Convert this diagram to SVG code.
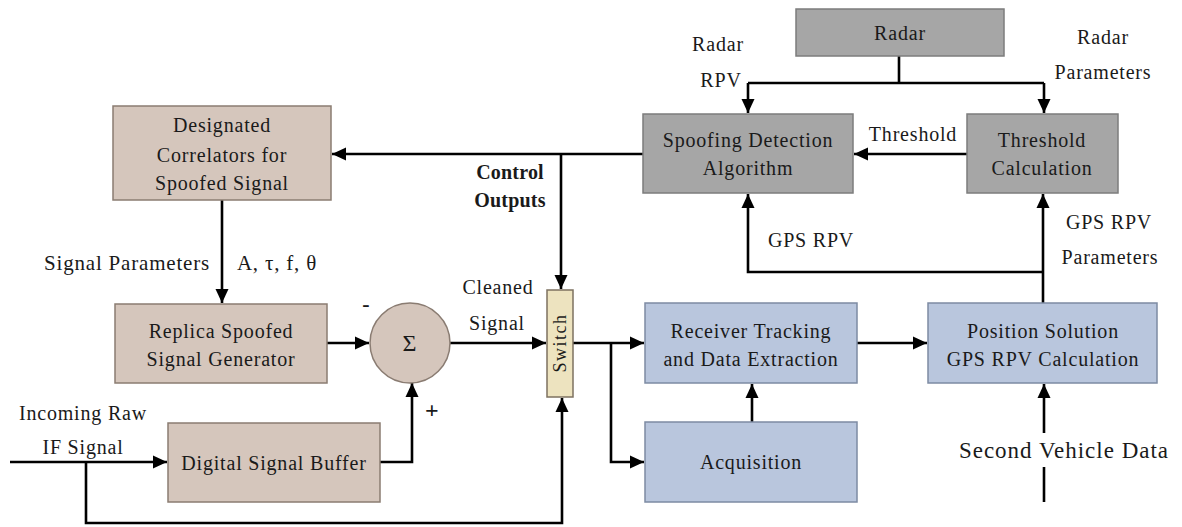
<svg xmlns="http://www.w3.org/2000/svg" width="1182" height="527" viewBox="0 0 1182 527">
  <style>
    text { font-family: "Liberation Serif", "Times New Roman", serif; font-size: 20px; letter-spacing: 0.8px; fill: #1a1a1a; text-anchor: middle; dominant-baseline: central; }
    .brown { fill: #d5c6bc; stroke: #8a7c72; stroke-width: 1.5; }
    .gray  { fill: #a6a6a6; stroke: #7c7c7c; stroke-width: 1.5; }
    .blue  { fill: #b9c6dd; stroke: #7d8ba3; stroke-width: 1.5; }
    .sw    { fill: #ede3bf; stroke: #7d7260; stroke-width: 1.5; }
    .wire  { fill: none; stroke: #000; stroke-width: 2.6; }
    .arrow { fill: none; stroke: #000; stroke-width: 2.6; marker-end: url(#head); }
    .bold  { font-weight: bold; letter-spacing: 0.2px; }
    .big   { font-size: 23px; letter-spacing: 1px; }
  </style>
  <defs>
    <marker id="head" markerUnits="userSpaceOnUse" markerWidth="15" markerHeight="15" refX="14" refY="7.5" orient="auto">
      <path d="M0,1 L14,7.5 L0,14 z" fill="#000"/>
    </marker>
  </defs>
  <rect width="1182" height="527" fill="#fff"/>

  <!-- connectors -->
  <g id="connectors">
    <path class="wire" d="M899,56 V83 M748,83 H1044"/>
    <path class="arrow" d="M748,83 V113"/>
    <path class="arrow" d="M1044,83 V113"/>
    <path class="arrow" d="M967,154 H854"/>
    <path class="arrow" d="M643,154 H332"/>
    <path class="arrow" d="M561,154 V289"/>
    <path class="arrow" d="M222,200 V303"/>
    <path class="arrow" d="M327,343 H369"/>
    <path class="arrow" d="M380,462 H412 V383"/>
    <path class="arrow" d="M10,462 H167"/>
    <path class="arrow" d="M86,462 V523 H562 V398"/>
    <path class="arrow" d="M450,343 H546"/>
    <path class="arrow" d="M573,343 H644"/>
    <path class="arrow" d="M611,343 V462 H644"/>
    <path class="arrow" d="M752,422 V384"/>
    <path class="arrow" d="M857,343 H927"/>
    <path class="arrow" d="M1044,433 V384"/>
    <path class="wire" d="M1044,467 V502"/>
    <path class="arrow" d="M1043,303 V194"/>
    <path class="arrow" d="M1043,272 H748 V194"/>
  </g>

  <!-- connector labels -->
  <g id="labels">
    <text x="718" y="44">Radar</text>
    <text x="721" y="80">RPV</text>
    <text x="1103" y="37">Radar</text>
    <text x="1103" y="72">Parameters</text>
    <text x="913" y="134">Threshold</text>
    <text class="bold" x="510" y="172">Control</text>
    <text class="bold" x="510" y="200">Outputs</text>
    <text x="811" y="240">GPS RPV</text>
    <text x="1109" y="222">GPS RPV</text>
    <text x="1110" y="257">Parameters</text>
    <text x="127" y="263" style="font-size:21px">Signal Parameters</text>
    <text x="277" y="263" style="font-size:21px">A, τ, f, θ</text>
    <text class="bold" x="366" y="303" style="font-size:22px">-</text>
    <text class="bold" x="432" y="410" style="font-size:24px">+</text>
    <text x="498" y="287">Cleaned</text>
    <text x="497" y="323">Signal</text>
    <text x="83" y="413">Incoming Raw</text>
    <text x="83" y="447">IF Signal</text>
    <text class="big" x="1064" y="450">Second Vehicle Data</text>
  </g>

  <g id="radar">
    <rect class="gray" x="796" y="9" width="208" height="47"/>
    <text x="900" y="33">Radar</text>
  </g>

  <g id="spoofing-detection">
    <rect class="gray" x="643" y="114" width="210" height="79"/>
    <text x="748" y="140">Spoofing Detection</text>
    <text x="748" y="168">Algorithm</text>
  </g>

  <g id="threshold-calculation">
    <rect class="gray" x="967" y="114" width="151" height="79"/>
    <text x="1042" y="140">Threshold</text>
    <text x="1042" y="168">Calculation</text>
  </g>

  <g id="designated-correlators">
    <rect class="brown" x="113" y="106" width="218" height="94"/>
    <text x="222" y="125">Designated</text>
    <text x="222" y="155">Correlators for</text>
    <text x="222" y="183">Spoofed Signal</text>
  </g>

  <g id="replica-generator">
    <rect class="brown" x="115" y="304" width="212" height="79"/>
    <text x="221" y="331">Replica Spoofed</text>
    <text x="221" y="359">Signal Generator</text>
  </g>

  <g id="summer">
    <circle class="brown" cx="410" cy="343" r="40"/>
    <text x="410" y="343" style="font-size:24px">Σ</text>
  </g>

  <g id="digital-buffer">
    <rect class="brown" x="168" y="423" width="212" height="79"/>
    <text x="274" y="463">Digital Signal Buffer</text>
  </g>

  <g id="switch">
    <rect class="sw" x="547" y="290" width="26" height="107"/>
    <text x="0" y="0" transform="translate(560,343) rotate(-90)" style="font-size:18px;letter-spacing:1.5px">Switch</text>
  </g>

  <g id="receiver-tracking">
    <rect class="blue" x="645" y="303" width="212" height="80"/>
    <text x="751" y="331">Receiver Tracking</text>
    <text x="751" y="359">and Data Extraction</text>
  </g>

  <g id="acquisition">
    <rect class="blue" x="645" y="422" width="212" height="80"/>
    <text x="751" y="462">Acquisition</text>
  </g>

  <g id="position-solution">
    <rect class="blue" x="928" y="303" width="229" height="80"/>
    <text x="1043" y="331">Position Solution</text>
    <text x="1043" y="359">GPS RPV Calculation</text>
  </g>
</svg>
